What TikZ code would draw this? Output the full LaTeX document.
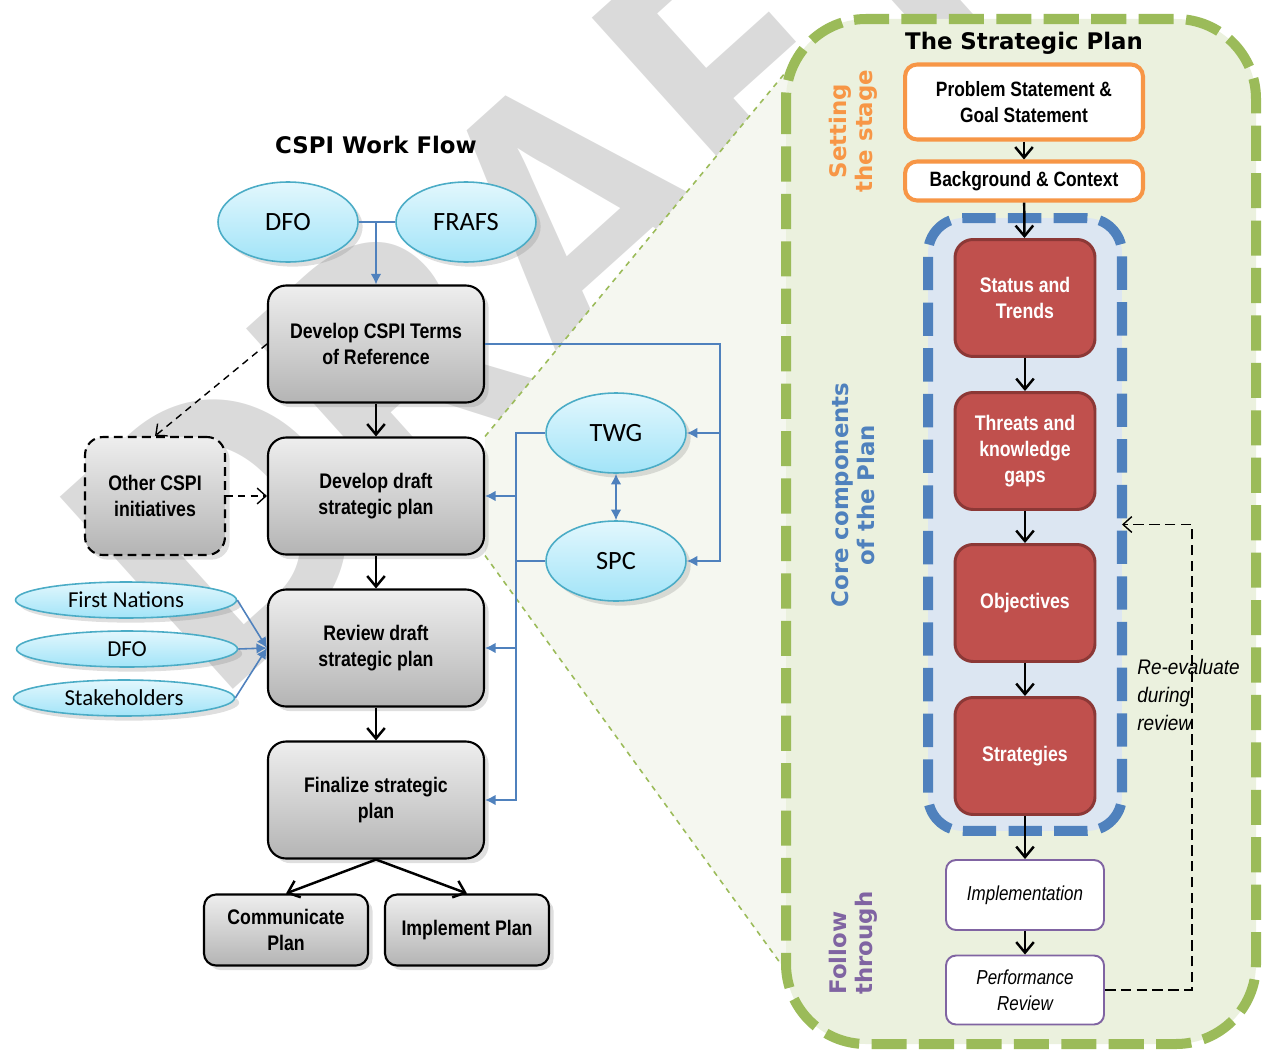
\documentclass[tikz,border=0pt]{standalone}
\usepackage{fontspec}
\setmainfont{Liberation Sans}
\newfontfamily\narrowfont[FakeStretch=0.84]{Liberation Sans}
\newfontfamily\notefont[FakeStretch=0.9]{Liberation Sans}
\newfontfamily\ovalfont{Carlito}
\newfontfamily\headfont{DejaVu Sans}
\usetikzlibrary{positioning}
\usetikzlibrary{shapes.geometric}
\usetikzlibrary{arrows.meta}
\usetikzlibrary{shadows}
\usetikzlibrary{backgrounds}
\definecolor{flowblue}{HTML}{4F81BD}
\definecolor{ovalline}{HTML}{4BACC6}
\definecolor{ovaltop}{HTML}{E2F7FD}
\definecolor{ovalbottom}{HTML}{A2E4F8}
\definecolor{planred}{HTML}{C0504D}
\definecolor{planredline}{HTML}{8C3836}
\definecolor{planorange}{HTML}{F79646}
\definecolor{planpurple}{HTML}{8064A2}
\definecolor{plangreen}{HTML}{9BBB59}
\definecolor{planbg}{HTML}{EBF1DE}
\definecolor{zoombg}{HTML}{F5F7F0}
\definecolor{corebg}{HTML}{DCE6F2}
\definecolor{boxtop}{HTML}{EEEEEE}
\definecolor{boxbottom}{HTML}{B4B4B4}
\definecolor{markgray}{HTML}{DADADA}
\tikzset{
    wfbox/.style = {rectangle, rounded corners=0.36cm, draw=black, line width=1.2pt, top color=boxtop, bottom color=boxbottom, minimum width=4.32cm, minimum height=2.34cm, align=center, font=\narrowfont\bfseries\fontsize{12}{14.7}\selectfont, drop shadow={opacity=0.25}},
    wfsmall/.style = {wfbox, rounded corners=0.24cm, minimum width=3.28cm, minimum height=1.42cm},
    wfother/.style = {wfbox, dash pattern=on 5pt off 3pt, minimum width=2.8cm, minimum height=2.36cm},
    oval/.style = {ellipse, draw=ovalline, line width=0.9pt, top color=ovaltop, bottom color=ovalbottom, minimum width=2.8cm, minimum height=1.6cm, inner sep=0pt, font=\ovalfont\fontsize{15}{18}\selectfont, drop shadow={opacity=0.25}},
    ovalflat/.style = {oval, minimum width=4.42cm, minimum height=0.72cm, font=\ovalfont\fontsize{13}{15}\selectfont},
    wftitle/.style = {inner sep=0pt, font=\headfont\bfseries\fontsize{13}{16}\selectfont},
    stagebox/.style = {rectangle, rounded corners=0.24cm, draw=planorange, line width=2.3pt, fill=white, minimum width=4.76cm, align=center, font=\narrowfont\bfseries\fontsize{11.8}{14.7}\selectfont},
    corebox/.style = {rectangle, rounded corners=0.36cm, draw=planredline, line width=1.7pt, fill=planred, text=white, minimum width=2.8cm, minimum height=2.34cm, align=center, font=\narrowfont\bfseries\fontsize{12}{14.7}\selectfont},
    followbox/.style = {rectangle, rounded corners=0.2cm, draw=planpurple, line width=1.1pt, fill=white, minimum width=3.16cm, align=center, font=\narrowfont\itshape\fontsize{11.5}{14.7}\selectfont},
    coreframe/.style = {rectangle, rounded corners=0.7cm, draw=flowblue, line width=5.7pt, dash pattern=on 19pt off 7pt, fill=corebg, minimum width=3.88cm, minimum height=12.26cm, outer sep=0pt},
    planframe/.style = {rounded corners=1.6cm, draw=plangreen, line width=5.7pt, dash pattern=on 20pt off 7pt, fill=planbg},
    sidelabel/.style = {rotate=90, align=center, inner sep=0pt, font=\headfont\bfseries\fontsize{13}{14.7}\selectfont},
    notetext/.style = {align=left, inner sep=0pt, font=\notefont\itshape\fontsize{12}{15.9}\selectfont},
    marktext/.style = {inner sep=0pt, text=markgray, font=\ovalfont\bfseries\fontsize{227}{227}\selectfont},
    edgen/.style = {-{Straight Barb[length=6pt,width=10pt]}, line width=1.4pt},
    edgeb/.style = {-{Latex[length=6pt,width=6pt]}, flowblue, line width=0.9pt},
    edged/.style = {-{Straight Barb[length=5pt,width=9pt]}, dash pattern=on 4pt off 3pt, line width=0.8pt},
    edgedl/.style = {edged, dash pattern=on 6pt off 3pt},
    zoomline/.style = {plangreen, dashed, line width=0.9pt}
}
\begin{document}
\begin{tikzpicture}[x=0.02cm,y=-0.02cm]
\useasboundingbox (0,0) rectangle (1267,1051);
%
\draw[planframe] (786,19) rectangle (1256,1044);
%
\node[wftitle] (wftitle) at (376,145) {CSPI Work Flow};
\node[oval] (dfo) at (288,222) {DFO};
\node[oval] (frafs) at (466,222) {FRAFS};
\node[wfbox] (tor) at (376,344) {Develop CSPI Terms\\of Reference};
\node[wfbox] (draft) at (376,496) {Develop draft\\strategic plan};
\node[wfbox] (review) at (376,648) {Review draft\\strategic plan};
\node[wfbox] (final) at (376,800) {Finalize strategic\\plan};
\node[wfsmall] (comm) at (286,930) {Communicate\\Plan};
\node[wfsmall] (impl) at (467,930) {Implement Plan};
\node[wfother] (other) at (155,496) {Other CSPI\\initiatives};
\node[oval] (twg) at (616,433) {TWG};
\node[oval] (spc) at (616,561) {SPC};
\node[ovalflat] (fn) at (126,600) {First Nations};
\node[ovalflat] (dfob) at (127,649) {DFO};
\node[ovalflat] (stake) at (124,698) {Stakeholders};
%
\coordinate (busr) at (720,344);
\coordinate (busl) at (516,433);
%
\draw[edgeb,-] (dfo.east) -- (frafs.west);
\draw[edgeb] (dfo.east -| tor.north) -- (tor.north);
\draw[edgen] (tor) -- (draft);
\draw[edgen] (draft) -- (review);
\draw[edgen] (review) -- (final);
\draw[edgen] (final.south) -- (comm.north);
\draw[edgen] (final.south) -- (impl.north);
\draw[edged] (tor.west) -- (other.north);
\draw[edged] (other.east) -- (draft.west);
\draw[edgeb] (tor.east) -| (busr |- spc.east) -- (spc.east);
\draw[edgeb] (busr |- twg.east) -- (twg.east);
\draw[edgeb] (twg.west) -| (busl |- final.east) -- (final.east);
\draw[edgeb,-] (spc.west) -- (busl |- spc.west);
\draw[edgeb] (busl |- draft.east) -- (draft.east);
\draw[edgeb] (busl |- review.east) -- (review.east);
\draw[edgeb,{Latex[length=6pt,width=6pt]}-{Latex[length=6pt,width=6pt]}] (twg.south) -- (spc.north);
\draw[edgeb] (fn.east) -- (review.west);
\draw[edgeb] (dfob.east) -- (review.west);
\draw[edgeb] (stake.east) -- (review.west);

% the strategic plan
\node[wftitle] (sptitle) at (1024,43) {The Strategic Plan};
\node[stagebox, minimum height=1.5cm] (problem) at (1024,102) {Problem Statement \&\\Goal Statement};
\node[stagebox, minimum height=0.78cm] (context) at (1024,181) {Background \& Context};
\node[coreframe] (core) at (1025,524.5) {};
\node[corebox] (status) at (1025,298) {Status and\\Trends};
\node[corebox] (threats) at (1025,451) {Threats and\\knowledge\\gaps};
\node[corebox] (objectives) at (1025,603) {Objectives};
\node[corebox] (strategies) at (1025,756) {Strategies};
\node[followbox, minimum height=1.4cm] (implementation) at (1025,895) {Implementation};
\node[followbox, minimum height=1.38cm] (perfreview) at (1025,990) {Performance\\Review};
%
\node[sidelabel, text=planorange] (setlabel) at (853,131) {Setting\\the stage};
\node[sidelabel, text=flowblue] (corelabel) at (853,495) {Core components\\of the Plan};
\node[sidelabel, text=planpurple, align=left, anchor=west] (followlabel) at (853,995) {Follow\\through};
\node[notetext, anchor=north west] (reeval) at (1137,659) {Re-evaluate\\during\\review};
%
\coordinate (loopr) at (1192,990);
\draw[edgen] (problem) -- (context);
\draw[edgen] (context) -- (status);
\draw[edgen] (status) -- (threats);
\draw[edgen] (threats) -- (objectives);
\draw[edgen] (objectives) -- (strategies);
\draw[edgen] (strategies) -- (implementation);
\draw[edgen] (implementation) -- (perfreview);
\draw[edgedl] (perfreview.east) -- (loopr) |- (core.east);

% zoom wedge and watermark
\coordinate (zoomtop) at (804,50);
\coordinate (zoombot) at (807,1000);
\begin{scope}[on background layer]
\clip (0,0) rectangle (1267,1051);
\node[marktext, anchor=base west, rotate=42] (draftmark) at (216,705) {DRAFT};
\fill[zoombg] (draft.north east) -- (zoomtop) -- (zoombot) -- (draft.south east) -- cycle;
\draw[zoomline] (draft.north east) -- (zoomtop);
\draw[zoomline] (draft.south east) -- (zoombot);
\end{scope}
\end{tikzpicture}
\end{document}
